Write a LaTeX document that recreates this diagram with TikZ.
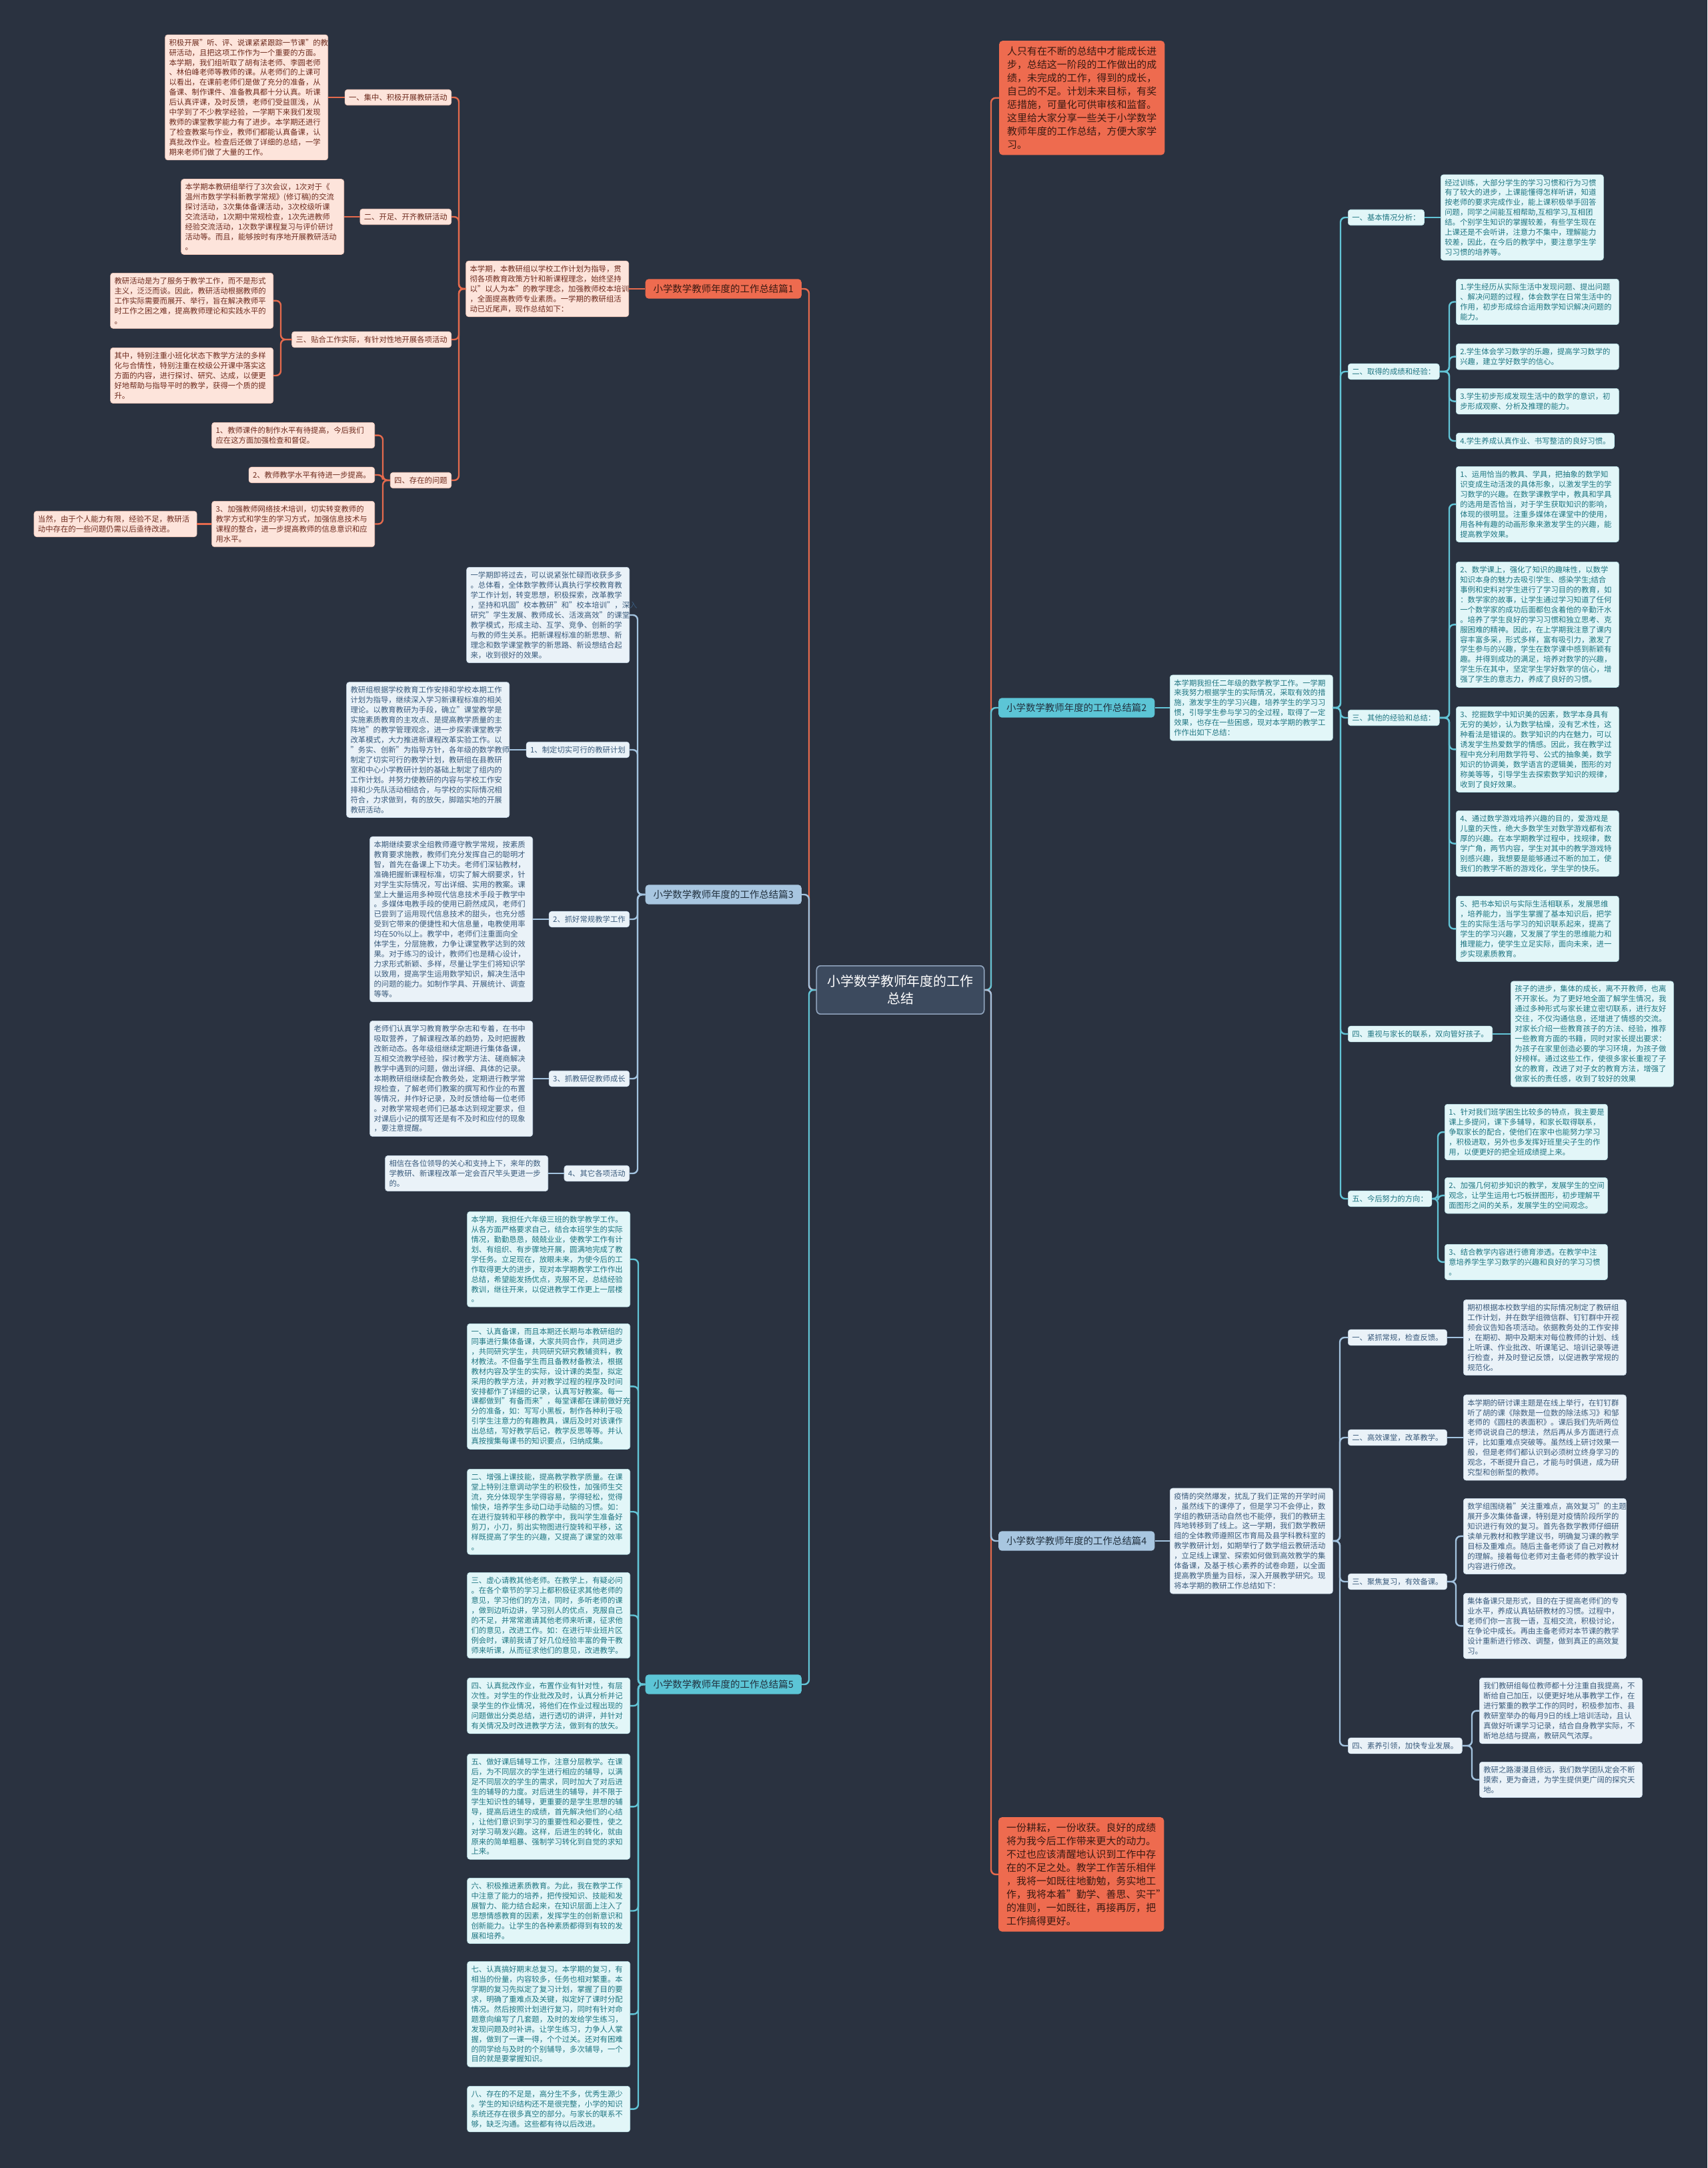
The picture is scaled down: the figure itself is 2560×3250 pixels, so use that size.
\documentclass[tikz,border=0pt]{standalone}
\usepackage{fontspec}
\setmainfont{Noto Sans CJK SC}
\definecolor{cBg}{HTML}{2A3240}
\definecolor{cOr}{HTML}{EE6B4F}
\definecolor{cOrLine}{HTML}{E56A4D}
\definecolor{cOrText}{HTML}{3A1A12}
\definecolor{cPFill}{HTML}{FDE4DB}
\definecolor{cPText}{HTML}{6E2B1E}
\definecolor{cPBorder}{HTML}{F6C9BA}
\definecolor{cTTitle}{HTML}{5CC5D6}
\definecolor{cTLine}{HTML}{62C4D6}
\definecolor{cTFill}{HTML}{E2F6F8}
\definecolor{cTText}{HTML}{1F7682}
\definecolor{cTBorder}{HTML}{BDE8EE}
\definecolor{cBTitle}{HTML}{A8C6E0}
\definecolor{cBLine}{HTML}{A3C3DF}
\definecolor{cBFill}{HTML}{EAF2F8}
\definecolor{cBText}{HTML}{3A5B7C}
\definecolor{cBBorder}{HTML}{CADCEC}
\definecolor{cTitleText}{HTML}{22313F}
\definecolor{cCtr}{HTML}{3C4A5E}
\definecolor{cCtrBorder}{HTML}{8FA3BC}
\newcommand\myL[4]{\draw[#1] (#2.west) -- (#2.west -| #3) -- (#3 |- #4.east) -- (#4.east);}
\newcommand\myR[4]{\draw[#1] (#2.east) -- (#2.east -| #3) -- (#3 |- #4.west) -- (#4.west);}
\tikzset{
 base/.style={rounded corners=4, align=left, inner xsep=6, inner ysep=6.5, font=\fontsize{11.4}{15}\selectfont, line width=0.6},
 pleaf/.style={base, fill=cPFill, draw=cPBorder, text=cPText, text width=233},
 pnode/.style={base, fill=cPFill, draw=cPBorder, text=cPText},
 bleaf/.style={base, fill=cBFill, draw=cBBorder, text=cBText, text width=233},
 bnode/.style={base, fill=cBFill, draw=cBBorder, text=cBText},
 tleaf/.style={base, fill=cTFill, draw=cTBorder, text=cTText, text width=233},
 tnode/.style={base, fill=cTFill, draw=cTBorder, text=cTText},
 titlebox/.style={rounded corners=5, inner xsep=12, inner ysep=8, font=\fontsize{14.5}{18}\selectfont, text=cTitleText},
 otitle/.style={titlebox, fill=cOr, text=cOrText},
 ttitle/.style={titlebox, fill=cTTitle},
 btitle/.style={titlebox, fill=cBTitle},
 obox/.style={rounded corners=5, fill=cOr, text=cOrText, align=left, text width=225, inner xsep=12, inner ysep=9, font=\fontsize{15}{20}\selectfont},
 ctrbox/.style={rounded corners=6, fill=cCtr, draw=cCtrBorder, line width=1.5, text=white, align=center, inner xsep=16, inner ysep=14, font=\fontsize{20}{26}\selectfont},
 oline/.style={draw=cOrLine, line width=2.4, rounded corners=7},
 tline/.style={draw=cTLine, line width=2.4, rounded corners=7},
 bline/.style={draw=cBLine, line width=2.4, rounded corners=7},
}
\begin{document}
\begin{tikzpicture}[x=1bp,y=-1bp]
\fill[cBg] (0,0) rectangle (2560,3250);
\useasboundingbox (0,0) rectangle (2560,3250);
% trunk coordinates
\coordinate (tL) at (1213,0);
\coordinate (tR) at (1486,0);
\coordinate (t1) at (688,0);
\coordinate (t13) at (421,0);
\coordinate (t14) at (574,0);
\coordinate (t3) at (956,0);
\coordinate (t5) at (957,0);
\coordinate (t2) at (2010,0);
\coordinate (t22) at (2173,0);
\coordinate (t23) at (2173,0);
\coordinate (t25) at (2156,0);
\coordinate (t4) at (2009,0);
\coordinate (t43) at (2183,0);
\coordinate (t44) at (2207,0);

% center
\node[ctrbox] (ctr) at (1350,1484) {小学数学教师年度的工作\\总结};

% ===== Branch 1 =====
\node[otitle, anchor=east] (b1) at (1202,433) {小学数学教师年度的工作总结篇1};
\node[pleaf, anchor=east] (b1s) at (943,433) {本学期，本教研组以学校工作计划为指导，贯\\彻各项教育政策方针和新课程理念，始终坚持\\以"以人为本"的教学理念，加强教师校本培训\\，全面提高教师专业素质。一学期的教研组活\\动已近尾声，现作总结如下：};
\node[pnode, anchor=east] (b1n1) at (677,146) {一、集中、积极开展教研活动};
\node[pleaf, anchor=east] (b1l1) at (492,146) {积极开展"听、评、说课紧紧跟踪一节课"的教\\研活动，且把这项工作作为一个重要的方面。\\本学期，我们组听取了胡有法老师、李圆老师\\、林伯峰老师等教师的课。从老师们的上课可\\以看出，在课前老师们是做了充分的准备，从\\备课、制作课件、准备教具都十分认真。听课\\后认真评课，及时反馈，老师们受益匪浅，从\\中学到了不少教学经验，一学期下来我们发现\\教师的课堂教学能力有了进步。本学期还进行\\了检查教案与作业，教师们都能认真备课，认\\真批改作业。检查后还做了详细的总结，一学\\期来老师们做了大量的工作。};
\node[pnode, anchor=east] (b1n2) at (677,325) {二、开足、开齐教研活动};
\node[pleaf, anchor=east] (b1l2) at (516,325) {本学期本教研组举行了3次会议，1次对于《\\温州市数学学科新教学常规》(修订稿)的交流\\探讨活动，3次集体备课活动，3次校级听课\\交流活动，1次期中常规检查，1次先进教师\\经验交流活动，1次数学课程复习与评价研讨\\活动等。而且，能够按时有序地开展教研活动\\。};
\node[pnode, anchor=east] (b1n3) at (677,509) {三、贴合工作实际，有针对性地开展各项活动};
\node[pleaf, anchor=north east] (b1l3a) at (410,409) {教研活动是为了服务于教学工作，而不是形式\\主义，泛泛而谈。因此，教研活动根据教师的\\工作实际需要而展开、举行，旨在解决教师平\\时工作之困之难，提高教师理论和实践水平的\\。};
\node[pleaf, anchor=north east] (b1l3b) at (410,521) {其中，特别注重小班化状态下教学方法的多样\\化与合情性，特别注重在校级公开课中落实这\\方面的内容，进行探讨、研究、达成，以便更\\好地帮助与指导平时的教学，获得一个质的提\\升。};
\node[pnode, anchor=east] (b1n4) at (677,720) {四、存在的问题};
\node[pleaf, anchor=north east] (b1l4a) at (562,633) {1、教师课件的制作水平有待提高，今后我们\\应在这方面加强检查和督促。};
\node[pnode, anchor=east] (b1l4b) at (562,712) {2、教师教学水平有待进一步提高。};
\node[pleaf, anchor=north east] (b1l4c) at (562,751) {3、加强教师网络技术培训，切实转变教师的\\教学方式和学生的学习方式，加强信息技术与\\课程的整合，进一步提高教师的信息意识和应\\用水平。};
\node[pleaf, anchor=east] (b1l4d) at ([xshift=-22]b1l4c.west) {当然，由于个人能力有限，经验不足，教研活\\动中存在的一些问题仍需以后亟待改进。};

\myL{oline}{ctr}{tL}{b1}
\draw[oline] (b1.west) -- (b1s.east);
\myL{oline}{b1s}{t1}{b1n1}
\myL{oline}{b1s}{t1}{b1n2}
\myL{oline}{b1s}{t1}{b1n3}
\myL{oline}{b1s}{t1}{b1n4}
\draw[oline] (b1n1.west) -- (b1l1.east);
\draw[oline] (b1n2.west) -- (b1l2.east);
\myL{oline}{b1n3}{t13}{b1l3a}
\myL{oline}{b1n3}{t13}{b1l3b}
\myL{oline}{b1n4}{t14}{b1l4a}
\myL{oline}{b1n4}{t14}{b1l4b}
\myL{oline}{b1n4}{t14}{b1l4c}
\draw[oline] (b1l4c.west) -- (b1l4d.east);

% ===== Branch 3 =====
\node[btitle, anchor=east] (b3) at (1202,1341) {小学数学教师年度的工作总结篇3};
\node[bleaf, anchor=east] (b3s) at (944,922) {一学期即将过去，可以说紧张忙碌而收获多多\\。总体看，全体数学教师认真执行学校教育教\\学工作计划，转变思想，积极探索，改革教学\\，坚持和巩固"校本教研"和"校本培训"，深入\\研究"学生发展、教师成长、活泼高效"的课堂\\教学模式，形成主动、互学、竞争、创新的学\\与教的师生关系。把新课程标准的新思想、新\\理念和数学课堂教学的新思路、新设想结合起\\来，收到很好的效果。};
\node[bnode, anchor=east] (b3n1) at (944,1124) {1、制定切实可行的教研计划};
\node[bleaf, anchor=east] (b3l1) at (764,1124) {教研组根据学校教育工作安排和学校本期工作\\计划为指导，继续深入学习新课程标准的相关\\理论。以教育教研为手段，确立"课堂教学是\\实施素质教育的主攻点、是提高教学质量的主\\阵地"的教学管理观念，进一步探索课堂教学\\改革模式，大力推进新课程改革实验工作。以\\"务实、创新"为指导方针，各年级的数学教师\\制定了切实可行的教学计划，教研组在县教研\\室和中心小学教研计划的基础上制定了组内的\\工作计划。并努力使教研的内容与学校工作安\\排和少先队活动相结合，与学校的实际情况相\\符合，力求做到，有的放矢，脚踏实地的开展\\教研活动。};
\node[bnode, anchor=east] (b3n2) at (944,1378) {2、抓好常规教学工作};
\node[bleaf, anchor=east] (b3l2) at (799,1378) {本期继续要求全组教师遵守教学常规，按素质\\教育要求施教，教师们充分发挥自己的聪明才\\智，首先在备课上下功夫。老师们深钻教材，\\准确把握新课程标准，切实了解大纲要求，针\\对学生实际情况，写出详细、实用的教案。课\\堂上大量运用多种现代信息技术手段于教学中\\。多媒体电教手段的使用已蔚然成风，老师们\\已尝到了运用现代信息技术的甜头，也充分感\\受到它带来的便捷性和大信息量，电教使用率\\均在50\%以上。教学中，老师们注重面向全\\体学生，分层施教，力争让课堂教学达到的效\\果。对于练习的设计，教师们也是精心设计，\\力求形式新颖、多样，尽量让学生们将知识学\\以致用，提高学生运用数学知识，解决生活中\\的问题的能力。如制作学具、开展统计、调查\\等等。};
\node[bnode, anchor=east] (b3n3) at (944,1617) {3、抓教研促教师成长};
\node[bleaf, anchor=east] (b3l3) at (799,1617) {老师们认真学习教育教学杂志和专着，在书中\\吸取营养，了解课程改革的趋势，及时把握教\\改新动态。各年级组继续定期进行集体备课，\\互相交流教学经验，探讨教学方法、磋商解决\\教学中遇到的问题，做出详细、具体的记录。\\本期教研组继续配合教务处，定期进行教学常\\规检查，了解老师们教案的撰写和作业的布置\\等情况，并作好记录，及时反馈给每一位老师\\。对教学常规老师们已基本达到规定要求，但\\对课后小记的撰写还是有不及时和应付的现象\\，要注意提醒。};
\node[bnode, anchor=east] (b3n4) at (944,1759) {4、其它各项活动};
\node[bleaf, anchor=east] (b3l4) at (822,1759) {相信在各位领导的关心和支持上下，来年的数\\学教研、新课程改革一定会百尺竿头更进一步\\的。};

\myL{bline}{ctr}{tL}{b3}
\myL{bline}{b3}{t3}{b3s}
\myL{bline}{b3}{t3}{b3n1}
\myL{bline}{b3}{t3}{b3n2}
\myL{bline}{b3}{t3}{b3n3}
\myL{bline}{b3}{t3}{b3n4}
\draw[bline] (b3n1.west) -- (b3l1.east);
\draw[bline] (b3n2.west) -- (b3l2.east);
\draw[bline] (b3n3.west) -- (b3l3.east);
\draw[bline] (b3n4.west) -- (b3l4.east);

% ===== Branch 5 =====
\node[ttitle, anchor=east] (b5) at (1202,2525) {小学数学教师年度的工作总结篇5};
\node[tleaf, anchor=north east] (b5s) at (945,1816) {本学期，我担任六年级三班的数学教学工作。\\从各方面严格要求自己，结合本班学生的实际\\情况，勤勤恳恳，兢兢业业，使教学工作有计\\划、有组织、有步骤地开展，圆满地完成了教\\学任务。立足现在，放眼未来，为使今后的工\\作取得更大的进步，现对本学期教学工作作出\\总结，希望能发扬优点，克服不足，总结经验\\教训，继往开来，以促进教学工作更上一层楼\\。};
\node[tleaf, anchor=north east] (b5i1) at (945,1984) {一、认真备课，而且本期还长期与本教研组的\\同事进行集体备课，大家共同合作，共同进步\\，共同研究学生，共同研究研究教辅资料，教\\材教法。不但备学生而且备教材备教法，根据\\教材内容及学生的实际，设计课的类型，拟定\\采用的教学方法，并对教学过程的程序及时间\\安排都作了详细的记录，认真写好教案。每一\\课都做到"有备而来"，每堂课都在课前做好充\\分的准备，如：写写小黑板，制作各种利于吸\\引学生注意力的有趣教具，课后及时对该课作\\出总结，写好教学后记，教学反思等等。并认\\真按搜集每课书的知识要点，归纳成集。};
\node[tleaf, anchor=north east] (b5i2) at (945,2202) {二、增强上课技能，提高教学教学质量。在课\\堂上特别注意调动学生的积极性，加强师生交\\流，充分体现学生学得容易，学得轻松，觉得\\愉快，培养学生多动口动手动脑的习惯。如：\\在进行旋转和平移的教学中，我叫学生准备好\\剪刀，小刀，剪出实物图进行旋转和平移，这\\样既提高了学生的兴趣，又提高了课堂的效率\\。};
\node[tleaf, anchor=north east] (b5i3) at (945,2357) {三、虚心请教其他老师。在教学上，有疑必问\\。在各个章节的学习上都积极征求其他老师的\\意见，学习他们的方法，同时，多听老师的课\\，做到边听边讲，学习别人的优点，克服自己\\的不足，并常常邀请其他老师来听课，征求他\\们的意见，改进工作。如：在进行毕业班片区\\例会时，课前我请了好几位经验丰富的骨干教\\师来听课，从而征求他们的意见，改进教学。};
\node[tleaf, anchor=north east] (b5i4) at (945,2515) {四、认真批改作业，布置作业有针对性，有层\\次性。对学生的作业批改及时，认真分析并记\\录学生的作业情况，将他们在作业过程出现的\\问题做出分类总结，进行透切的讲评，并针对\\有关情况及时改进教学方法，做到有的放矢。};
\node[tleaf, anchor=north east] (b5i5) at (945,2629) {五、做好课后辅导工作，注意分层教学。在课\\后，为不同层次的学生进行相应的辅导，以满\\足不同层次的学生的需求，同时加大了对后进\\生的辅导的力度。对后进生的辅导，并不限于\\学生知识性的辅导，更重要的是学生思想的辅\\导，提高后进生的成绩，首先解决他们的心结\\，让他们意识到学习的重要性和必要性，使之\\对学习萌发兴趣。这样，后进生的转化，就由\\原来的简单粗暴、强制学习转化到自觉的求知\\上来。};
\node[tleaf, anchor=north east] (b5i6) at (945,2815) {六、积极推进素质教育。为此，我在教学工作\\中注意了能力的培养，把传授知识、技能和发\\展智力、能力结合起来，在知识层面上注入了\\思想情感教育的因素，发挥学生的创新意识和\\创新能力。让学生的各种素质都得到有较的发\\展和培养。};
\node[tleaf, anchor=north east] (b5i7) at (945,2940) {七、认真搞好期末总复习。本学期的复习，有\\相当的份量，内容较多，任务也相对繁重。本\\学期的复习先拟定了复习计划，掌握了目的要\\求，明确了重难点及关键，拟定好了课时分配\\情况。然后按照计划进行复习，同时有针对命\\题意向编写了几套题，及时的发给学生练习，\\发现问题及时补讲。让学生练习，力争人人掌\\握，做到了一课一得，个个过关。还对有困难\\的同学给与及时的个别辅导，多次辅导，一个\\目的就是要掌握知识。};
\node[tleaf, anchor=north east] (b5i8) at (945,3127) {八、存在的不足是，高分生不多，优秀生源少\\。学生的知识结构还不是很完整，小学的知识\\系统还存在很多真空的部分。与家长的联系不\\够，缺乏沟通。这些都有待以后改进。};

\myL{tline}{ctr}{tL}{b5}
\myL{tline}{b5}{t5}{b5s}
\myL{tline}{b5}{t5}{b5i1}
\myL{tline}{b5}{t5}{b5i2}
\myL{tline}{b5}{t5}{b5i3}
\myL{tline}{b5}{t5}{b5i4}
\myL{tline}{b5}{t5}{b5i5}
\myL{tline}{b5}{t5}{b5i6}
\myL{tline}{b5}{t5}{b5i7}
\myL{tline}{b5}{t5}{b5i8}

% ===== Right side =====
\node[obox, anchor=north west] (intro) at (1498,61) {人只有在不断的总结中才能成长进\\步，总结这一阶段的工作做出的成\\绩，未完成的工作，得到的成长，\\自己的不足。计划未来目标，有奖\\惩措施，可量化可供审核和监督。\\这里给大家分享一些关于小学数学\\教师年度的工作总结，方便大家学\\习。};
\node[obox, anchor=north west] (close) at (1497,2724) {一份耕耘，一份收获。良好的成绩\\将为我今后工作带来更大的动力。\\不过也应该清醒地认识到工作中存\\在的不足之处。教学工作苦乐相伴\\，我将一如既往地勤勉，务实地工\\作，我将本着"勤学、善思、实干"\\的准则，一如既往，再接再厉，把\\工作搞得更好。};
\myR{oline}{ctr}{tR}{intro}
\myR{oline}{ctr}{tR}{close}

% ===== Branch 2 =====
\node[ttitle, anchor=west] (b2) at (1497,1061) {小学数学教师年度的工作总结篇2};
\node[tleaf, anchor=west] (b2s) at (1754,1061) {本学期我担任二年级的数学教学工作。一学期\\来我努力根据学生的实际情况，采取有效的措\\施，激发学生的学习兴趣，培养学生的学习习\\惯，引导学生参与学习的全过程，取得了一定\\效果，也存在一些困惑，现对本学期的教学工\\作作出如下总结：};
\node[tnode, anchor=west] (b2n1) at (2021,326) {一、基本情况分析：};
\node[tleaf, anchor=west] (b2l1) at (2160,326) {经过训练，大部分学生的学习习惯和行为习惯\\有了较大的进步，上课能懂得怎样听讲，知道\\按老师的要求完成作业，能上课积极举手回答\\问题，同学之间能互相帮助,互相学习,互相团\\结。个别学生知识的掌握较差，有些学生现在\\上课还是不会听讲，注意力不集中，理解能力\\较差，因此，在今后的教学中，要注意学生学\\习习惯的培养等。};
\node[tnode, anchor=west] (b2n2) at (2021,557) {二、取得的成绩和经验：};
\node[tleaf, anchor=north west] (b2l2a) at (2183,418) {1.学生经历从实际生活中发现问题、提出问题\\、解决问题的过程，体会数学在日常生活中的\\作用，初步形成综合运用数学知识解决问题的\\能力。};
\node[tleaf, anchor=north west] (b2l2b) at (2183,515) {2.学生体会学习数学的乐趣，提高学习数学的\\兴趣，建立学好数学的信心。};
\node[tleaf, anchor=north west] (b2l2c) at (2183,582) {3.学生初步形成发现生活中的数学的意识，初\\步形成观察、分析及推理的能力。};
\node[tnode, anchor=west] (b2l2d) at (2183,661) {4.学生养成认真作业、书写整洁的良好习惯。};
\node[tnode, anchor=west] (b2n3) at (2021,1076) {三、其他的经验和总结：};
\node[tleaf, anchor=north west] (b2l3a) at (2183,699) {1、运用恰当的教具、学具，把抽象的数学知\\识变成生动活泼的具体形象，以激发学生的学\\习数学的兴趣。在数学课教学中，教具和学具\\的选用是否恰当，对于学生获取知识的影响，\\体现的很明显。注重多媒体在课堂中的使用，\\用各种有趣的动画形象来激发学生的兴趣，能\\提高教学效果。};
\node[tleaf, anchor=north west] (b2l3b) at (2183,842) {2、数学课上，强化了知识的趣味性，以数学\\知识本身的魅力去吸引学生、感染学生;结合\\事例和史料对学生进行了学习目的的教育，如\\：数学家的故事，让学生通过学习知道了任何\\一个数学家的成功后面都包含着他的辛勤汗水\\。培养了学生良好的学习习惯和独立思考、克\\服困难的精神。因此，在上学期我注意了课内\\容丰富多采，形式多样，富有吸引力，激发了\\学生参与的兴趣，学生在数学课中感到新颖有\\趣。并得到成功的满足，培养对数学的兴趣，\\学生乐在其中，坚定学生学好数学的信心，增\\强了学生的意志力，养成了良好的习惯。};
\node[tleaf, anchor=north west] (b2l3c) at (2183,1059) {3、挖掘数学中知识美的因素，数学本身具有\\无穷的美妙，认为数学枯燥，没有艺术性，这\\种看法是错误的。数学知识的内在魅力，可以\\诱发学生热爱数学的情感。因此，我在教学过\\程中充分利用数学符号、公式的抽象美，数学\\知识的协调美，数学语言的逻辑美，图形的对\\称美等等，引导学生去探索数学知识的规律，\\收到了良好效果。};
\node[tleaf, anchor=north west] (b2l3d) at (2183,1215) {4、通过数学游戏培养兴趣的目的，爱游戏是\\儿童的天性，绝大多数学生对数学游戏都有浓\\厚的兴趣。在本学期教学过程中，找规律，数\\学广角，两节内容，学生对其中的教学游戏特\\别感兴趣，我想要是能够通过不断的加工，使\\我们的教学不断的游戏化，学生学的快乐。};
\node[tleaf, anchor=north west] (b2l3e) at (2183,1343) {5、把书本知识与实际生活相联系，发展思维\\，培养能力，当学生掌握了基本知识后，把学\\生的实际生活与学习的知识联系起来，提高了\\学生的学习兴趣，又发展了学生的思维能力和\\推理能力，使学生立足实际，面向未来，进一\\步实现素质教育。};
\node[tnode, anchor=west] (b2n4) at (2021,1550) {四、重视与家长的联系，双向管好孩子。};
\node[tleaf, anchor=west] (b2l4) at (2265,1550) {孩子的进步，集体的成长，离不开教师，也离\\不开家长。为了更好地全面了解学生情况，我\\通过多种形式与家长建立密切联系，进行友好\\交往，不仅沟通信息，还增进了情感的交流。\\对家长介绍一些教育孩子的方法、经验，推荐\\一些教育方面的书籍，同时对家长提出要求：\\为孩子在家里创造必要的学习环境，为孩子做\\好榜样。通过这些工作，使很多家长重视了子\\女的教育，改进了对子女的教育方法，增强了\\做家长的责任感，收到了较好的效果};
\node[tnode, anchor=west] (b2n5) at (2021,1797) {五、今后努力的方向：};
\node[tleaf, anchor=north west] (b2l5a) at (2166,1655) {1、针对我们班学困生比较多的特点，我主要是\\课上多提问，课下多辅导，和家长取得联系，\\争取家长的配合，使他们在家中也能努力学习\\，积极进取，另外也多发挥好班里尖子生的作\\用，以便更好的把全班成绩提上来。};
\node[tleaf, anchor=north west] (b2l5b) at (2166,1765) {2、加强几何初步知识的教学，发展学生的空间\\观念，让学生运用七巧板拼图形，初步理解平\\面图形之间的关系，发展学生的空间观念。};
\node[tleaf, anchor=north west] (b2l5c) at (2166,1865) {3、结合教学内容进行德育渗透。在教学中注\\意培养学生学习数学的兴趣和良好的学习习惯\\。};

\myR{tline}{ctr}{tR}{b2}
\draw[tline] (b2.east) -- (b2s.west);
\myR{tline}{b2s}{t2}{b2n1}
\myR{tline}{b2s}{t2}{b2n2}
\myR{tline}{b2s}{t2}{b2n3}
\myR{tline}{b2s}{t2}{b2n4}
\myR{tline}{b2s}{t2}{b2n5}
\draw[tline] (b2n1.east) -- (b2l1.west);
\myR{tline}{b2n2}{t22}{b2l2a}
\myR{tline}{b2n2}{t22}{b2l2b}
\myR{tline}{b2n2}{t22}{b2l2c}
\myR{tline}{b2n2}{t22}{b2l2d}
\myR{tline}{b2n3}{t23}{b2l3a}
\myR{tline}{b2n3}{t23}{b2l3b}
\myR{tline}{b2n3}{t23}{b2l3c}
\myR{tline}{b2n3}{t23}{b2l3d}
\myR{tline}{b2n3}{t23}{b2l3e}
\draw[tline] (b2n4.east) -- (b2l4.west);
\myR{tline}{b2n5}{t25}{b2l5a}
\myR{tline}{b2n5}{t25}{b2l5b}
\myR{tline}{b2n5}{t25}{b2l5c}

% ===== Branch 4 =====
\node[btitle, anchor=west] (b4) at (1497,2310) {小学数学教师年度的工作总结篇4};
\node[bleaf, anchor=west] (b4s) at (1754,2310) {疫情的突然爆发，扰乱了我们正常的开学时间\\，虽然线下的课停了，但是学习不会停止，数\\学组的教研活动自然也不能停，我们的教研主\\阵地转移到了线上。这一学期，我们数学教研\\组的全体教师遵照区市育局及县学科教科室的\\教学教研计划，如期举行了数学组云教研活动\\，立足线上课堂、探索如何做到高效教学的集\\体备课，及基于核心素养的试卷命题，以全面\\提高教学质量为目标，深入开展教学研究。现\\将本学期的教研工作总结如下：};
\node[bnode, anchor=west] (b4n1) at (2021,2005) {一、紧抓常规，检查反馈。};
\node[bleaf, anchor=west] (b4l1) at (2194,2005) {期初根据本校数学组的实际情况制定了教研组\\工作计划，并在数学组微信群、钉钉群中开视\\频会议告知各项活动。依据教务处的工作安排\\，在期初、期中及期末对每位教师的计划、线\\上听课、作业批改、听课笔记、培训记录等进\\行检查，并及时登记反馈，以促进教学常规的\\规范化。};
\node[bnode, anchor=west] (b4n2) at (2021,2155) {二、高效课堂，改革教学。};
\node[bleaf, anchor=west] (b4l2) at (2194,2155) {本学期的研讨课主题是在线上举行，在钉钉群\\听了胡的课《除数是一位数的除法练习》和邹\\老师的《圆柱的表面积》。课后我们先听两位\\老师说说自己的想法，然后再从多方面进行点\\评，比如重难点突破等。虽然线上研讨效果一\\般，但是老师们都认识到必须树立终身学习的\\观念，不断提升自己，才能与时俱进，成为研\\究型和创新型的教师。};
\node[bnode, anchor=west] (b4n3) at (2021,2371) {三、聚焦复习，有效备课。};
\node[bleaf, anchor=north west] (b4l3a) at (2194,2246) {数学组围绕着"关注重难点，高效复习"的主题\\展开多次集体备课，特别是对疫情阶段所学的\\知识进行有效的复习。首先各数学教师仔细研\\读单元教材和教学建议书，明确复习课的教学\\目标及重难点。随后主备老师谈了自己对教材\\的理解。接着每位老师对主备老师的教学设计\\内容进行修改。};
\node[bleaf, anchor=north west] (b4l3b) at (2194,2388) {集体备课只是形式，目的在于提高老师们的专\\业水平，养成认真钻研教材的习惯。过程中，\\老师们你一言我一语，互相交流，积极讨论，\\在争论中成长。再由主备老师对本节课的教学\\设计重新进行修改、调整，做到真正的高效复\\习。};
\node[bnode, anchor=west] (b4n4) at (2021,2617) {四、素养引领，加快专业发展。};
\node[bleaf, anchor=north west] (b4l4a) at (2218,2515) {我们教研组每位教师都十分注重自我提高，不\\断给自己加压，以便更好地从事教学工作，在\\进行繁重的教学工作的同时，积极参加市、县\\教研室举办的每月9日的线上培训活动，且认\\真做好听课学习记录，结合自身教学实际，不\\断地总结与提高，教研风气浓厚。};
\node[bleaf, anchor=north west] (b4l4b) at (2218,2641) {教研之路漫漫且修远，我们数学团队定会不断\\摸索，更为奋进，为学生提供更广阔的探究天\\地。};

\myR{bline}{ctr}{tR}{b4}
\draw[bline] (b4.east) -- (b4s.west);
\myR{bline}{b4s}{t4}{b4n1}
\myR{bline}{b4s}{t4}{b4n2}
\myR{bline}{b4s}{t4}{b4n3}
\myR{bline}{b4s}{t4}{b4n4}
\draw[bline] (b4n1.east) -- (b4l1.west);
\draw[bline] (b4n2.east) -- (b4l2.west);
\myR{bline}{b4n3}{t43}{b4l3a}
\myR{bline}{b4n3}{t43}{b4l3b}
\myR{bline}{b4n4}{t44}{b4l4a}
\myR{bline}{b4n4}{t44}{b4l4b}

% redraw center on top
\node[ctrbox] at (ctr) {小学数学教师年度的工作\\总结};
\end{tikzpicture}
\end{document}
